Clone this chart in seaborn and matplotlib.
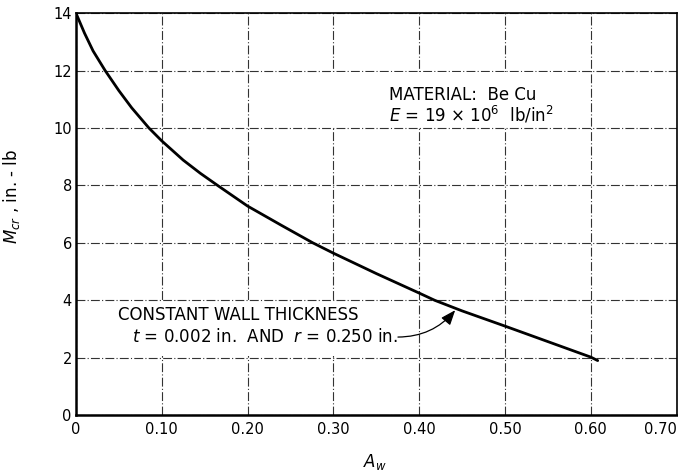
import matplotlib
matplotlib.use("Agg")
import matplotlib.pyplot as plt
import seaborn as sns
import pandas as pd

# Data
a_w = [0.0, 0.01, 0.02, 0.034, 0.05, 0.065, 0.085, 0.10, 0.125, 0.145, 0.165,
       0.20, 0.24, 0.276, 0.30, 0.35, 0.40, 0.418, 0.45, 0.50, 0.55, 0.60, 0.608]
m_cr = [14.0, 13.3, 12.68, 12.0, 11.3, 10.7, 10.0, 9.55, 8.88, 8.42, 8.0,
        7.28, 6.6, 6.0, 5.64, 4.93, 4.25, 4.0, 3.63, 3.1, 2.56, 2.02, 1.9]
x_ticks = [0.0, 0.1, 0.2, 0.3, 0.4, 0.5, 0.6, 0.7]
x_tick_labels = ["0", "0.10", "0.20", "0.30", "0.40", "0.50", "0.60", "0.70"]
y_ticks = [0, 2, 4, 6, 8, 10, 12, 14]

df = pd.DataFrame({"A_w": a_w, "M_cr": m_cr})

sns.set_style("white")
plt.rcParams["font.family"] = ["DejaVu Sans"]
plt.rcParams["text.color"] = "black"
plt.rcParams["axes.labelcolor"] = "black"

fig = plt.figure(figsize=(6.78, 4.75), dpi=100)
ax = fig.add_axes([0.112, 0.126, 0.886, 0.8465])

sns.lineplot(data=df, x="A_w", y="M_cr", ax=ax, color="black", linewidth=2.0)

ax.set_xlim(0, 0.70)
ax.set_ylim(0, 14)
ax.set_xticks(x_ticks)
ax.set_xticklabels(x_tick_labels)
ax.set_yticks(y_ticks)
ax.tick_params(axis="both", length=0, labelsize=10.5, colors="black")
ax.tick_params(axis="x", pad=5)
ax.tick_params(axis="y", pad=3)
ax.get_xticklabels()[-1].set_horizontalalignment("right")
ax.grid(True, color="#333333", linestyle=(0, (8, 2, 1, 2)), linewidth=0.8)
for side, sp in ax.spines.items():
    sp.set_visible(True)
    sp.set_color("black")
    sp.set_linewidth(1.8 if side in ("left", "bottom") else 1.2)

ax.set_xlabel("$A_w$", fontsize=12)
ax.set_ylabel("$M_{cr}$ , in. - lb", fontsize=12)
ax.xaxis.set_label_coords(0.497, -0.092)
ax.yaxis.set_label_coords(-0.09, 0.545)

# White boxes covering the grid behind the notes
ax.add_patch(plt.Rectangle((0.296, 10.05), 0.294, 1.9, transform=ax.transData,
                           facecolor="white", edgecolor="none", zorder=1.5))
ax.add_patch(plt.Rectangle((0.003, 2.05), 0.395, 1.9, transform=ax.transData,
                           facecolor="white", edgecolor="none", zorder=1.5))

ax.text(0.365, 11.15, "MATERIAL:  Be Cu", fontsize=12, ha="left", va="center", zorder=3)
ax.text(0.365, 10.45, "$E$ = 19 × 10$^6$  lb/in$^2$", fontsize=12, ha="left", va="center", zorder=3)

ax.text(0.049, 3.5, "CONSTANT WALL THICKNESS", fontsize=12, ha="left", va="center", zorder=3)
ax.text(0.065, 2.72, "$t$ = 0.002 in.  AND  $r$ = 0.250 in.", fontsize=12,
        ha="left", va="center", zorder=3)

ax.annotate("", xy=(0.444, 3.73), xytext=(0.372, 2.72),
            arrowprops=dict(arrowstyle="-|>,head_length=0.9,head_width=0.35",
                            color="black", lw=0.9,
                            connectionstyle="arc3,rad=0.25"), zorder=4)

fig.savefig("out.png", dpi=100)
